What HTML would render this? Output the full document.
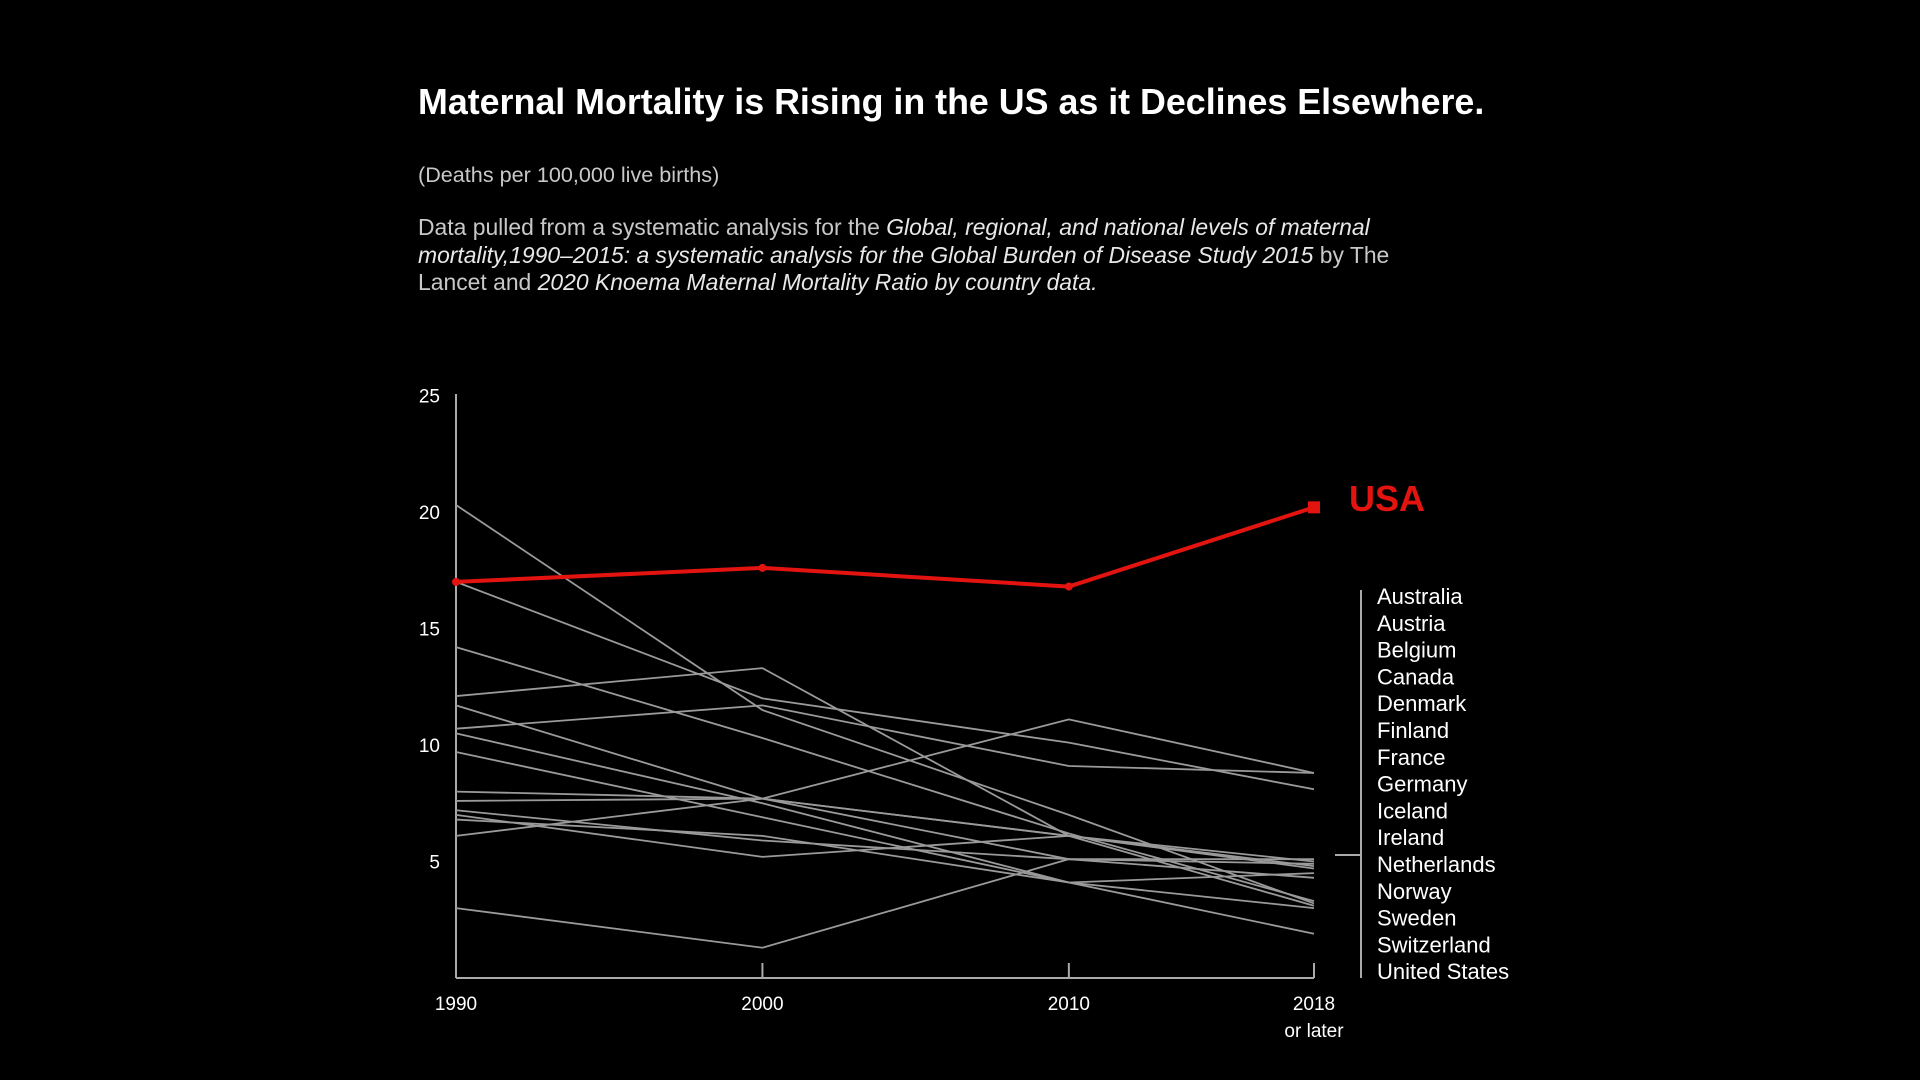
<!DOCTYPE html>
<html><head><meta charset="utf-8"><style>
html,body{margin:0;padding:0;background:#000;}
body{width:1920px;height:1080px;position:relative;overflow:hidden;font-family:"Liberation Sans",Arial,sans-serif;}
.t{position:absolute;left:418px;color:#fff;white-space:nowrap;}
#title{top:82px;font-size:35.8px;font-weight:bold;color:#fff;}
#sub{top:162px;font-size:21.6px;color:#c8c8c8;}
#desc{top:214px;font-size:22.9px;line-height:27.5px;color:#c8c8c8;}
#desc i{color:#e8e8e8;}
svg{position:absolute;left:0;top:0;}
</style></head><body>
<div class="t" id="title">Maternal Mortality is Rising in the US as it Declines Elsewhere.</div>
<div class="t" id="sub">(Deaths per 100,000 live births)</div>
<div class="t" id="desc">Data pulled from a systematic analysis for the <i>Global, regional, and national levels of maternal</i><br><i>mortality,1990–2015: a systematic analysis for the Global Burden of Disease Study 2015</i> by The<br>Lancet and <i>2020 Knoema Maternal Mortality Ratio by country data.</i></div>
<svg id="chart" width="1920" height="1080"></svg>
<script>
const years = ["1990","2000","2010","2018"];
const yTicks = [5,10,15,20,25];
const usaValues = [17.0,17.6,16.8,20.2];
const s1 = [20.3,11.5,7.0,3.2];
const s2 = [17.0,12.0,10.1,8.1];
const s3 = [14.2,10.3,6.2,3.3];
const s4 = [12.1,13.3,6.1,3.1];
const s5 = [11.7,7.7,6.1,5.0];
const s6 = [10.7,11.7,9.1,8.8];
const s7 = [10.5,7.5,4.1,3.0];
const s8 = [9.7,6.9,4.1,4.5];
const s9 = [8.0,7.7,6.1,4.7];
const s10 = [7.6,7.7,5.1,4.9];
const s11 = [7.2,5.9,5.1,4.3];
const s12 = [7.0,5.2,6.1,4.8];
const s13 = [6.8,6.1,4.1,1.9];
const s14 = [6.1,7.7,11.1,8.8];
const s15 = [3.0,1.3,5.1,5.1];
const greySeries = [s1,s2,s3,s4,s5,s6,s7,s8,s9,s10,s11,s12,s13,s14,s15];
const countries = ["Australia","Austria","Belgium","Canada","Denmark","Finland","France","Germany","Iceland","Ireland","Netherlands","Norway","Sweden","Switzerland","United States"];

const xPos = [456,762,1068,1314];
function xScale(i){return xPos[0] + (xPos[3]-xPos[0]) * [0,10,20,28][i]/28;}
function yScale(v){return 978 - v*23.3;}
const NS="http://www.w3.org/2000/svg";
const svg=document.getElementById('chart');
function mk(tag,attrs,text){const e=document.createElementNS(NS,tag);for(const k in attrs)e.setAttribute(k,attrs[k]);if(text!==undefined)e.textContent=text;svg.appendChild(e);return e;}

let a=mk('line',{x1:456,y1:394,x2:456,y2:978,stroke:'#aaa','stroke-width':2});


a=mk('line',{x1:456,y1:978,x2:1314,y2:978,stroke:'#aaa','stroke-width':2});


yTicks.forEach(v=>{
  const t=mk('text',{x:440,y:yScale(v)+7,'text-anchor':'end',fill:'#fff','font-size':19},String(v));
  
  
});
years.forEach((yr,i)=>{
  const x=xScale(i);
  if(i>0){const tk=mk('line',{x1:x,y1:963,x2:x,y2:978,stroke:'#aaa','stroke-width':2});
    
    }
  const t=mk('text',{x:x,y:1010,'text-anchor':'middle',fill:'#fff','font-size':19},yr);
  
  
});
const ol=mk('text',{x:xScale(3),y:1037,'text-anchor':'middle',fill:'#fff','font-size':19},'or later');



greySeries.forEach((s,k)=>{
  const p=mk('polyline',{points:s.map((v,i)=>xScale(i)+','+yScale(v)).join(' '),fill:'none',stroke:'#9a9a9a','stroke-width':1.8});
  
  
});
const usa=mk('polyline',{points:usaValues.map((v,i)=>xScale(i)+','+yScale(v)).join(' '),fill:'none',stroke:'#e3140f','stroke-width':4});


usaValues.forEach((v,i)=>{
  const last=i===3;
  const m=last?mk('rect',{x:xScale(i)-6,y:yScale(v)-6,width:12,height:12,fill:'#e3140f'}):mk('circle',{cx:xScale(i),cy:yScale(v),r:4,fill:'#e3140f'});
  
  
});
const ul=mk('text',{x:1349,y:511,fill:'#e3140f','font-size':36,'font-weight':'bold'},'USA');



let b=mk('line',{x1:1361,y1:590,x2:1361,y2:978,stroke:'#aaa','stroke-width':2});


b=mk('line',{x1:1335,y1:855,x2:1361,y2:855,stroke:'#aaa','stroke-width':2});


countries.forEach((c,i)=>{
  const t=mk('text',{x:1377,y:604+i*26.8,fill:'#fff','font-size':22},c);
  
  
});
</script>
</body></html>
